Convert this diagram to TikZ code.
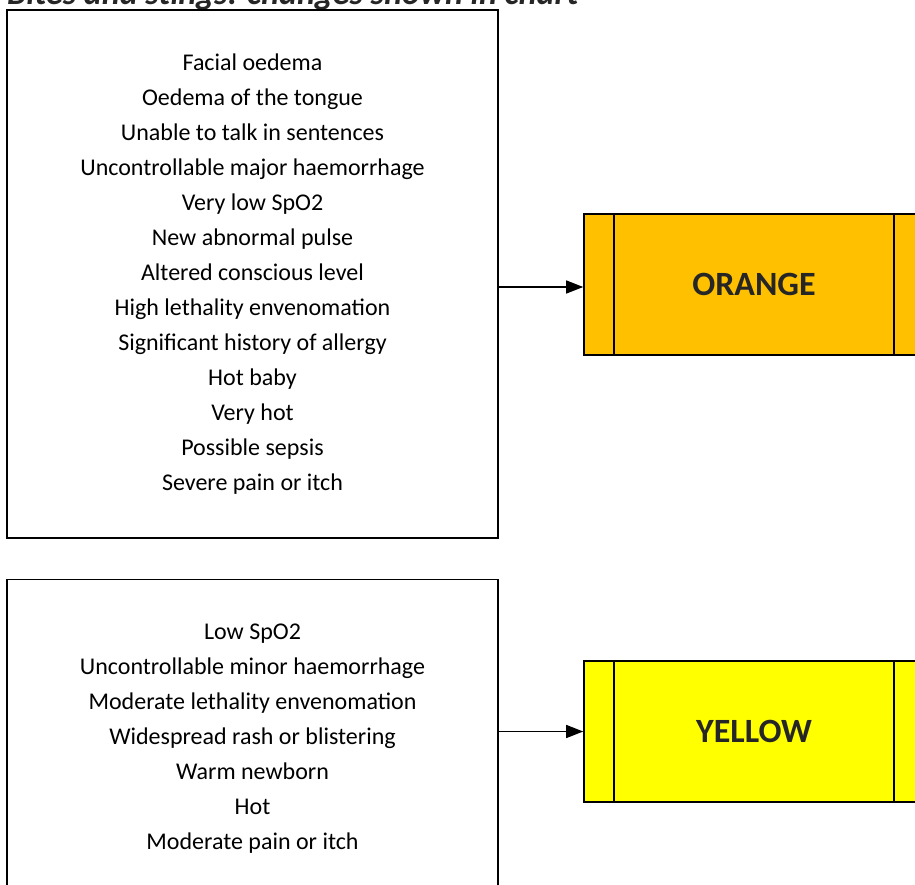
\documentclass[tikz,border=0pt]{standalone}
\usepackage{fontspec}
\setmainfont{Carlito}
\usetikzlibrary{arrows.meta}
\definecolor{txt}{HTML}{262626}
\definecolor{orangefill}{HTML}{FFC000}
\definecolor{yellowfill}{HTML}{FFFF00}
\tikzset{
  listbox/.style={draw=black, line width=1.6pt, fill=white, inner sep=0pt,
    minimum width=491pt, align=center, text=black,
    font=\fontsize{24}{35}\selectfont},
  levelbox/.style={draw=black, line width=1.6pt, inner sep=0pt,
    minimum width=340pt, minimum height=141pt, text=txt,
    font=\fontsize{34}{40}\selectfont\bfseries},
  sidebar/.style={line width=1.6pt},
  flowarrow/.style={line width=1.4pt, -{Triangle[length=17pt,width=13pt]}},
}
\begin{document}
\begin{tikzpicture}[x=1pt, y=-1pt]
  \useasboundingbox (0,0) rectangle (915,885);
  \clip (0,0) rectangle (915,885);

  % heading, trimmed at the top edge
  \node[anchor=base west, inner sep=0pt, text=txt,
        font=\fontsize{34}{40}\selectfont\bfseries\itshape] (heading) at (7,5)
    {Bites and stings: changes shown in chart};

  % criteria lists
  \node[listbox, minimum height=528pt] (critA) at (252.5,274) {%
    Facial oedema\\
    Oedema of the tongue\\
    Unable to talk in sentences\\
    Uncontrollable major haemorrhage\\
    Very low SpO2\\
    New abnormal pulse\\
    Altered conscious level\\
    High lethality envenomation\\
    Significant history of allergy\\
    Hot baby\\
    Very hot\\
    Possible sepsis\\
    Severe pain or itch};

  \node[listbox, minimum height=318pt] (critB) at (252.5,738.5) {%
    Low SpO2\\
    Uncontrollable minor haemorrhage\\
    Moderate lethality envenomation\\
    Widespread rash or blistering\\
    Warm newborn\\
    Hot\\
    Moderate pain or itch};

  % priority boxes with side bars
  \node[levelbox, fill=orangefill] (orange) at (754,284.5) {ORANGE};
  \draw[sidebar] ([xshift=31pt]orange.north west) -- ([xshift=31pt]orange.south west);
  \draw[sidebar] ([xshift=-31pt]orange.north east) -- ([xshift=-31pt]orange.south east);

  \node[levelbox, fill=yellowfill] (yellow) at (754,731.5) {YELLOW};
  \draw[sidebar] ([xshift=31pt]yellow.north west) -- ([xshift=31pt]yellow.south west);
  \draw[sidebar] ([xshift=-31pt]yellow.north east) -- ([xshift=-31pt]yellow.south east);

  % connectors
  \draw[flowarrow] ([yshift=-2.5pt]orange.west -| critA.east) -- ([yshift=-2.5pt]orange.west);
  \draw[flowarrow] (yellow.west -| critB.east) -- (yellow.west);
\end{tikzpicture}
\end{document}
